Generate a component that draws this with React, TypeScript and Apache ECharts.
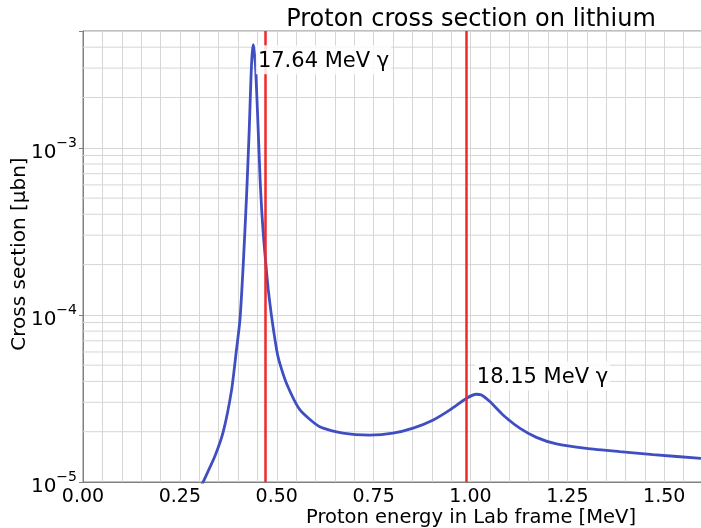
import React, { useEffect, useRef } from 'react';
import * as echarts from 'echarts';

// Proton energy in lab frame [MeV]
const energy = [
  0.3, 0.31, 0.34, 0.362, 0.3835, 0.396, 0.405, 0.4135, 0.422, 0.429, 0.4333, 0.436, 0.439,
  0.4415, 0.4455, 0.452, 0.457, 0.461, 0.466, 0.472, 0.478, 0.4866, 0.4996, 0.506, 0.525,
  0.56, 0.611, 0.671, 0.74, 0.8, 0.852, 0.904, 0.947, 0.99, 1.015, 1.028, 1.05, 1.084, 1.127,
  1.17, 1.222, 1.299, 1.385, 1.471, 1.6,
];
// Cross section [µbn]
const sigma = [
  8.9e-6, 1.0e-5, 1.42e-5, 2.0e-5, 3.56e-5, 6.17e-5, 9.3e-5, 2.0e-4, 5.1e-4, 1.28e-3, 2.55e-3, 3.5e-3, 4.14e-3,
  3.85e-3, 3.0e-3, 1.3e-3, 6.5e-4, 4.3e-4, 2.9e-4, 2.0e-4, 1.42e-4, 9.8e-5, 6.2e-5, 5.3e-5, 3.9e-5,
  2.7e-5, 2.14e-5, 1.96e-5, 1.91e-5, 1.96e-5, 2.1e-5, 2.35e-5, 2.7e-5, 3.17e-5, 3.35e-5, 3.32e-5, 3.03e-5, 2.52e-5, 2.1e-5,
  1.85e-5, 1.69e-5, 1.59e-5, 1.52e-5, 1.46e-5, 1.38e-5,
];
// Vertical red lines (gamma thresholds)
const gammaLines = [0.47, 0.99];
// Annotation texts and their anchor (left-middle) in data coords
const annotationTexts = ['17.64 MeV γ', '18.15 MeV γ'];
const annotationE = [0.4462, 1.0111];
const annotationS = [3.36e-3, 4.31e-5];
// Minor horizontal grid values of the log axis
const minorY = [
  2e-5, 3e-5, 4e-5, 5e-5, 6e-5, 7e-5, 8e-5, 9e-5,
  2e-4, 3e-4, 4e-4, 5e-4, 6e-4, 7e-4, 8e-4, 9e-4,
  2e-3, 3e-3, 4e-3,
];
const X_MIN = 0;
const X_MAX = 1.6;

const FONT = 'DejaVu Sans';
const GRID = '#d6d6d6';
const AXIS = '#808080';

export default function App() {
  const ref = useRef<HTMLDivElement>(null);
  useEffect(() => {
    const chart = echarts.init(ref.current!, null, { renderer: 'svg' });
    const curve = energy.map((e, i) => [e, sigma[i]]);
    const minorGrid: any[] = [];
    minorY.forEach((y) => {
      minorGrid.push([X_MIN, y], [X_MAX, y], [X_MAX, '-']);
    });
    chart.setOption({
      animation: false,
      textStyle: { fontFamily: FONT },
      grid: {
        left: 83, top: 31, right: -2, bottom: 46,
        outerBoundsMode: 'none',
        containLabel: false,
        show: true, borderColor: AXIS, borderWidth: 1, backgroundColor: 'transparent',
      },
      xAxis: {
        type: 'value', min: X_MIN, max: X_MAX, interval: 0.25,
        axisLine: { show: true, lineStyle: { color: AXIS } },
        axisTick: { show: false },
        axisLabel: {
          fontSize: 19, lineHeight: 19, color: '#000', margin: 3, fontFamily: FONT,
          formatter: (v: number) => (Math.abs(v / 0.25 - Math.round(v / 0.25)) < 1e-6 ? v.toFixed(2) : ''),
        },
        splitLine: { show: true, lineStyle: { color: GRID, width: 1 } },
        minorTick: { show: false, splitNumber: 5 },
        minorSplitLine: { show: true, lineStyle: { color: GRID, width: 1 } },
      },
      yAxis: {
        type: 'log', logBase: 10, min: 1e-5, max: 5e-3,
        axisLine: { show: true, lineStyle: { color: AXIS } },
        axisTick: { show: true, length: 4, lineStyle: { color: AXIS } },
        axisLabel: {
          margin: 6, color: '#000',
          formatter: (v: number) => {
            const l = Math.log10(v);
            const r = Math.round(l);
            if (Math.abs(l - r) > 1e-6) return '';
            return `{b|10}{s|\u2212${-r}}`;
          },
          rich: {
            b: { fontSize: 20, fontFamily: FONT, color: '#000', padding: [6, 0, 0, 0] },
            s: { fontSize: 14, fontFamily: FONT, color: '#000', verticalAlign: 'top' },
          },
        },
        splitLine: { show: true, lineStyle: { color: GRID, width: 1 } },
      },
      series: [
        {
          type: 'line',
          data: minorGrid,
          showSymbol: false,
          silent: true,
          connectNulls: false,
          z: 1,
          lineStyle: { color: GRID, width: 1 },
        },
        {
          type: 'line',
          data: curve,
          showSymbol: false,
          smooth: 0.2,
          clip: true,
          z: 3,
          lineStyle: { color: '#3f4fc2', width: 2.8 },
          markLine: {
            silent: true, z: 4, symbol: ['none', 'none'], label: { show: false },
            lineStyle: { color: '#f02828', width: 2.5, type: 'solid' },
            emphasis: { disabled: true },
            data: gammaLines.map((x) => ({ xAxis: x })),
          },
          markPoint: {
            silent: true, z: 5, symbol: 'rect', symbolSize: 0,
            label: {
              show: true, position: 'right', distance: 0,
              fontSize: 21, fontFamily: FONT, color: '#000',
              backgroundColor: 'rgba(255,255,255,0.85)', padding: [4, 2, 4, 2],
              formatter: (p: any) => p.name,
            },
            data: annotationTexts.map((t, i) => ({ name: t, coord: [annotationE[i], annotationS[i]] })),
          },
        },
      ],
      graphic: [
        {
          type: 'text', x: 471, y: 18,
          style: { text: 'Proton cross section on lithium', fontSize: 24, fontFamily: FONT, fill: '#000', align: 'center', verticalAlign: 'middle' },
        },
        {
          type: 'text', x: 471, y: 516.5,
          style: { text: 'Proton energy in Lab frame [MeV]', fontSize: 19.5, lineHeight: 19, fontFamily: FONT, fill: '#000', align: 'center', verticalAlign: 'middle' },
        },
        {
          type: 'text', x: 18, y: 254, rotation: Math.PI / 2,
          style: { text: 'Cross section [μbn]', fontSize: 20, fontFamily: FONT, fill: '#000', align: 'center', verticalAlign: 'middle' },
        },
      ],
    });
    return () => chart.dispose();
  }, []);
  return <div ref={ref} style={{ position: 'fixed', left: 0, top: 0, width: 701, height: 528 }} />;
}
